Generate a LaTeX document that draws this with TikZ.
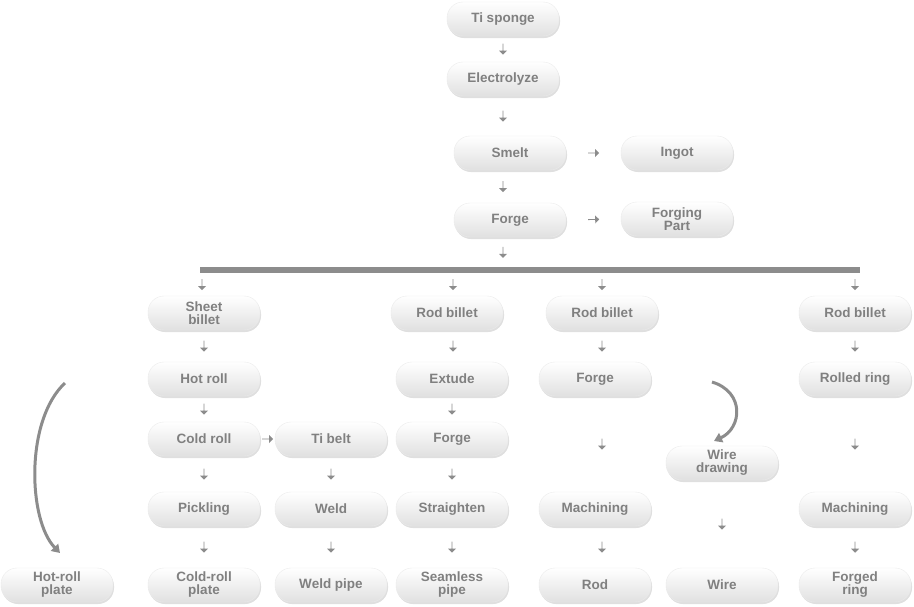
\documentclass[tikz,border=0pt]{standalone}
\usepackage{fontspec}
\setmainfont{Liberation Sans}
\usetikzlibrary{shapes.arrows, shadows, arrows.meta}
\definecolor{txtgray}{RGB}{128,128,128}
\definecolor{arrgray}{RGB}{140,140,140}
\tikzstyle{step1} = [rectangle, rounded corners=16pt, minimum width=112pt, minimum height=34pt, inner sep=1pt, align=center, top color=white, bottom color=black!12, draw=black!8, drop shadow={opacity=0.25, shadow xshift=1pt, shadow yshift=-2pt}, text=txtgray, font=\bfseries\fontsize{13.5}{13}\selectfont]
\tikzstyle{arr} = [single arrow, draw=none, fill=arrgray, minimum height=11pt, minimum width=8pt, single arrow head extend=1.5pt, inner sep=0pt, sloped]
\tikzstyle{curve} = [arrgray, line width=3pt, -{Triangle[width=10pt,length=8pt]}]

\begin{document}
\begin{tikzpicture}[x=1pt, y=-1pt]
\useasboundingbox (0,0) rectangle (914,606);

% trunk
\node (sponge) [step1] at (503,19) {Ti sponge};
\node (elec) [step1] at (503,79) {Electrolyze};
\node (smelt) [step1] at (510,153) {Smelt};
\node (ingot) [step1] at (677,153) {Ingot};
\node (forge) [step1] at (510,220) {Forge};
\node (part) [step1] at (677,219) {Forging\\Part};

\path (sponge) -- node[arr]{} (elec);
\path (elec) -- node[arr]{} (smelt.north -| elec);
\path (smelt) -- node[arr]{} (ingot);
\path (smelt.south -| elec) -- node[arr]{} (forge.north -| elec);
\path (forge) -- node[arr]{} (part);

% bar
\fill [arrgray] (200,267) rectangle (860,273);
\coordinate (bar) at (503,267);
\path (forge.south -| bar) -- node[arr]{} (bar);

% column 1
\node (sheet) [step1] at (204,313) {Sheet\\billet};
\node (hot) [step1] at (204,379) {Hot roll};
\node (cold) [step1] at (204,439) {Cold roll};
\node (pick) [step1] at (204,509) {Pickling};
\node (cplate) [step1] at (204,585) {Cold-roll\\plate};
\node (hplate) [step1] at (57,585) {Hot-roll\\plate};
\coordinate (b1) at (202,273);
\path (b1) -- node[arr]{} (sheet.north -| b1);
\path (sheet) -- node[arr]{} (hot);
\path (hot) -- node[arr]{} (cold);
\path (cold) -- node[arr]{} (pick);
\path (pick) -- node[arr]{} (cplate);
\coordinate (hs) at (65,383);
\coordinate (he) at (60,553);
\draw [curve] (hs) .. controls (25,420) and (28,520) .. (he);

% Ti belt column
\node (belt) [step1] at (331,439) {Ti belt};
\node (weld) [step1] at (331,509) {Weld};
\node (wpipe) [step1] at (331,585) {Weld pipe};
\path (cold) -- node[arr]{} (belt);
\path (belt) -- node[arr]{} (weld);
\path (weld) -- node[arr]{} (wpipe);

% column 3
\node (rod1) [step1] at (447,313) {Rod billet};
\node (ext) [step1] at (452,379) {Extude};
\node (forge2) [step1] at (452,439) {Forge};
\node (str) [step1] at (452,509) {Straighten};
\node (spipe) [step1] at (452,585) {Seamless\\pipe};
\coordinate (b2) at (453,273);
\path (b2) -- node[arr]{} (rod1.north -| b2);
\path (rod1.south -| b2) -- node[arr]{} (ext.north -| b2);
\path (ext) -- node[arr]{} (forge2);
\path (forge2) -- node[arr]{} (str);
\path (str) -- node[arr]{} (spipe);

% column 4
\node (rod2) [step1] at (602,313) {Rod billet};
\node (forge3) [step1] at (595,379) {Forge};
\node (mach1) [step1] at (595,509) {Machining};
\node (rod) [step1] at (595,585) {Rod};
\coordinate (b3) at (602,273);
\path (b3) -- node[arr]{} (rod2.north -| b3);
\path (rod2.south -| b3) -- node[arr]{} (forge3.north -| b3);
\path (forge3.south -| b3) -- node[arr]{} (mach1.north -| b3);
\path (mach1.south -| b3) -- node[arr]{} (rod.north -| b3);

% wire column
\node (draw) [step1] at (722,463) {Wire\\drawing};
\node (wire) [step1] at (722,585) {Wire};
\path (draw) -- node[arr]{} (wire);
\coordinate (ws) at (712,382);
\coordinate (we) at (714,441);
\draw [curve] (ws) .. controls (745,392) and (742,428) .. (we);

% column 6
\node (rod3) [step1] at (855,313) {Rod billet};
\node (ring) [step1] at (855,379) {Rolled ring};
\node (mach2) [step1] at (855,509) {Machining};
\node (fring) [step1] at (855,585) {Forged\\ring};
\coordinate (b4) at (855,273);
\path (b4) -- node[arr]{} (rod3);
\path (rod3) -- node[arr]{} (ring);
\path (ring) -- node[arr]{} (mach2);
\path (mach2) -- node[arr]{} (fring);

\end{tikzpicture}
\end{document}
